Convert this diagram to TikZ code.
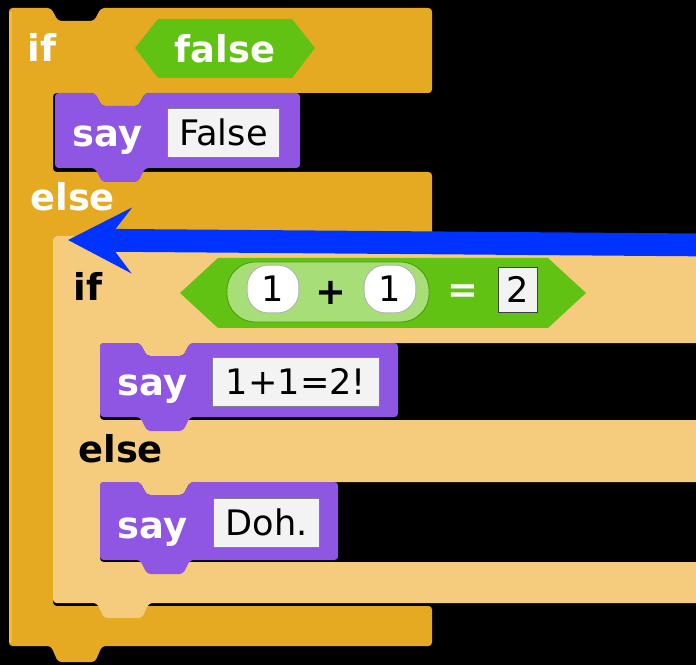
\documentclass[tikz,border=0pt]{standalone}
\usepackage{fontspec}
\setmainfont{DejaVu Sans}
\usetikzlibrary{arrows.meta}
\definecolor{ctrlorange}{RGB}{230,170,34}
\definecolor{ctrllight}{RGB}{250,184,44}
\definecolor{zebraorange}{RGB}{245,204,125}
\definecolor{looksviolet}{RGB}{143,86,227}
\definecolor{opgreen}{RGB}{98,194,19}
\definecolor{zebragreen}{RGB}{168,222,120}
\definecolor{slotgray}{RGB}{243,243,243}
\definecolor{arrowblue}{RGB}{0,51,255}
\newdimen\px \px=0.5669pt
% command block outline: left, top, right, bottom
\newcommand\cmdshape[4]{(#1,#2) -- ({#1+40},#2) -- ({#1+47},{#2+13}) -- ({#1+83},{#2+13})
  -- ({#1+90},#2) -- (#3,#2) -- (#3,#4) -- ({#1+90},#4) -- ({#1+83},{#4+14})
  -- ({#1+47},{#4+14}) -- ({#1+40},#4) -- (#1,#4) -- cycle}

\begin{document}
\begin{tikzpicture}[x=0.02cm, y=-0.02cm,
    ctrl/.style={fill=ctrlorange, rounded corners=2pt},
    zebra/.style={fill=zebraorange, rounded corners=2pt},
    looks/.style={fill=looksviolet, rounded corners=2pt},
    pred/.style={fill=opgreen},
    lbl/.style={font=\fontsize{21}{24}\selectfont\bfseries, text=white,
                inner sep=0pt, anchor=base west},
    dlbl/.style={lbl, text=black},
    slot/.style={rectangle, fill=slotgray, draw=black!50, line width=0.6pt,
                 inner sep=0pt, font=\fontsize{20}{24}\selectfont,
                 text height=14.5pt, text depth=0pt, minimum height=50\px},
    oval/.style={rectangle, rounded corners=12pt, fill=white, draw=black!30,
                 line width=0.5pt, inner sep=0pt, minimum width=52\px,
                 minimum height=48\px, font=\fontsize{20}{24}\selectfont,
                 text height=14.5pt, text depth=0pt},
    pointer/.style={-{Stealth[length=36pt, width=37pt, inset=14pt]},
                    line width=13pt, arrowblue}
  ]
    \fill[black] (0,0) rectangle (696,665);
    \useasboundingbox (0,0) rectangle (696,665);
    \clip (0,0) rectangle (696,665);

    % outer if-else
    \fill[ctrl] (9,8) -- (51,8) -- (58,21) -- (94,21) -- (101,8) -- (432,8) -- (432,93)
      -- (145,93) -- (138,106) -- (102,106) -- (95,93) -- (53,93) -- (53,172)
      -- (432,172) -- (432,236) -- (145,236) -- (138,249) -- (102,249) -- (95,236)
      -- (53,236) -- (53,606) -- (432,606) -- (432,646) -- (102,646) -- (95,662)
      -- (58,662) -- (51,646) -- (9,646) -- cycle;
    \fill[ctrllight] (9,12) rectangle (12,642);

    % inner if-else
    \fill[zebra] (53,236) -- (95,236) -- (102,249) -- (138,249) -- (145,236) -- (700,236)
      -- (700,343) -- (190,343) -- (183,356) -- (147,356) -- (140,343) -- (100,343)
      -- (100,420) -- (700,420) -- (700,482) -- (190,482) -- (183,495) -- (147,495)
      -- (140,482) -- (100,482) -- (100,562) -- (700,562) -- (700,603) -- (149,603)
      -- (142,618) -- (104,618) -- (97,603) -- (53,603) -- cycle;

    % say blocks
    \fill[looks] \cmdshape{55}{93}{300}{168};
    \fill[looks] \cmdshape{100}{343}{398}{417};
    \fill[looks] \cmdshape{100}{482}{338}{560};

    % predicates
    \fill[pred] (135,48) -- (158,19) -- (292,19) -- (315,48) -- (292,78) -- (158,78) -- cycle;
    \fill[pred] (180,293) -- (218,258) -- (548,258) -- (586,293) -- (548,328) -- (218,328) -- cycle;
    \filldraw[fill=zebragreen, draw=opgreen!80!black, line width=0.5pt, rounded corners=16pt]
      (227,262) rectangle (429,322);

    % labels
    \node[lbl] (if1) at (27,62) {if};
    \node[lbl, anchor=base] (cond1) at (225,63) {false};
    \node[lbl] (say1) at (72,147) {say};
    \node[slot, minimum width=113\px] (in1) at (223.5,133) {False};
    \node[lbl] (else1) at (30,211) {else};

    \node[dlbl] (if2) at (73,301) {if};
    \node[oval] (numa) at (273,289) {1};
    \node[dlbl, anchor=base] (plus) at (331,305) {+};
    \node[oval] (numb) at (390,289) {1};
    \node[lbl, anchor=base] (eq) at (463,303) {=};
    \node[slot, draw=black!75, minimum width=40\px, minimum height=46\px] (numc) at (518,290) {2};
    \node[lbl] (say2) at (117,395) {say};
    \node[slot, minimum width=168\px] (in2) at (296,382) {1+1=2!};
    \node[dlbl] (else2) at (78,462) {else};
    \node[lbl] (say3) at (117,538) {say};
    \node[slot, minimum width=107\px] (in3) at (266.5,523) {Doh.};

    % pointer
    \coordinate (tail) at (710,245);
    \coordinate (tip) at (68,240);
    \draw[pointer] (tail) -- (tip);
\end{tikzpicture}
\end{document}
